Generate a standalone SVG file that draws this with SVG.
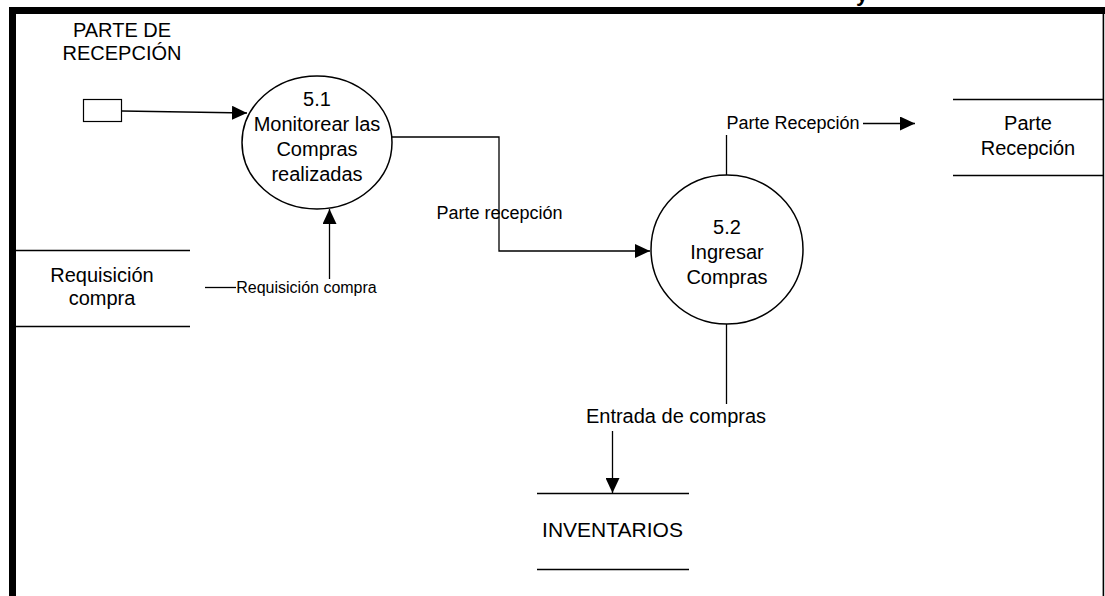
<svg xmlns="http://www.w3.org/2000/svg" width="1105" height="596" viewBox="0 0 1105 596">
<defs>
<style>
text{font-family:"Liberation Sans",Arial,sans-serif;fill:#000;text-anchor:middle}
.t{font-size:20px}
.s{font-size:18px}
.xs{font-size:16px}
.ln{stroke:#000;stroke-width:1.3;fill:none}
.st{stroke:#000;stroke-width:1.3}
.pr{fill:#fff;stroke:#000;stroke-width:1.5}
</style>
<marker id="ah" markerWidth="15" markerHeight="14" refX="15" refY="7" orient="auto" markerUnits="userSpaceOnUse">
<path d="M0,0 L15,7 L0,14 Z" fill="#000"/>
</marker>
</defs>
<rect width="1105" height="596" fill="#fff"/>
<g id="frame">
<rect x="9" y="7" width="1096" height="7" fill="#000"/>
<rect x="9" y="7" width="7" height="589" fill="#000"/>
<rect x="1102.6" y="14" width="1.6" height="582" fill="#000"/>
<text x="862" y="1" style="font-size:22px;font-weight:bold">y</text>
</g>
<g id="connectors">
<path class="ln" d="M122,111 L247,113" marker-end="url(#ah)"/>
<path class="ln" d="M387,137 L499,137 L499,251 L650,251" marker-end="url(#ah)"/>
<path class="ln" d="M205,287.5 L236,287.5"/>
<path class="ln" d="M329.5,279 L329.5,209" marker-end="url(#ah)"/>
<path class="ln" d="M726.5,175 L726.5,135"/>
<path class="ln" d="M863,123.5 L915,123.5" marker-end="url(#ah)"/>
<path class="ln" d="M726.5,324 L726.5,404"/>
<path class="ln" d="M612.5,431 L612.5,493" marker-end="url(#ah)"/>
<text class="xs" x="306.5" y="293">Requisición compra</text>
<text class="s" x="499.5" y="219">Parte recepción</text>
<text class="s" x="793" y="129">Parte Recepción</text>
<text class="t" x="676" y="423">Entrada de compras</text>
</g>
<g id="ext-parte">
<rect x="83.5" y="99.5" width="38" height="22" fill="#fff" stroke="#000" stroke-width="1.2"/>
<text class="t" x="122" y="37">PARTE DE</text>
<text class="t" x="122" y="60">RECEPCIÓN</text>
</g>
<g id="p51">
<ellipse class="pr" cx="317" cy="142.5" rx="75" ry="66.5"/>
<text class="t" x="317" y="106">5.1</text>
<text class="t" x="317" y="131">Monitorear las</text>
<text class="t" x="317" y="156">Compras</text>
<text class="t" x="317" y="181">realizadas</text>
</g>
<g id="p52">
<ellipse class="pr" cx="727" cy="249.5" rx="76" ry="74.5"/>
<text class="t" x="727" y="234">5.2</text>
<text class="t" x="727" y="259">Ingresar</text>
<text class="t" x="727" y="284">Compras</text>
</g>
<g id="ds-requisicion">
<line class="st" x1="16" y1="250.5" x2="190" y2="250.5"/>
<line class="st" x1="16" y1="326.5" x2="190" y2="326.5"/>
<text class="t" x="102" y="282">Requisición</text>
<text class="t" x="102" y="305">compra</text>
</g>
<g id="ds-parte">
<line class="st" x1="953" y1="99.5" x2="1103" y2="99.5"/>
<line class="st" x1="953" y1="175.5" x2="1103" y2="175.5"/>
<text class="t" x="1028" y="130">Parte</text>
<text class="t" x="1028" y="155">Recepción</text>
</g>
<g id="ds-inventarios">
<line class="st" x1="537" y1="493.5" x2="689" y2="493.5"/>
<line class="st" x1="537" y1="569.5" x2="689" y2="569.5"/>
<text class="t" x="612.5" y="537" style="font-size:21px">INVENTARIOS</text>
</g>
</svg>
